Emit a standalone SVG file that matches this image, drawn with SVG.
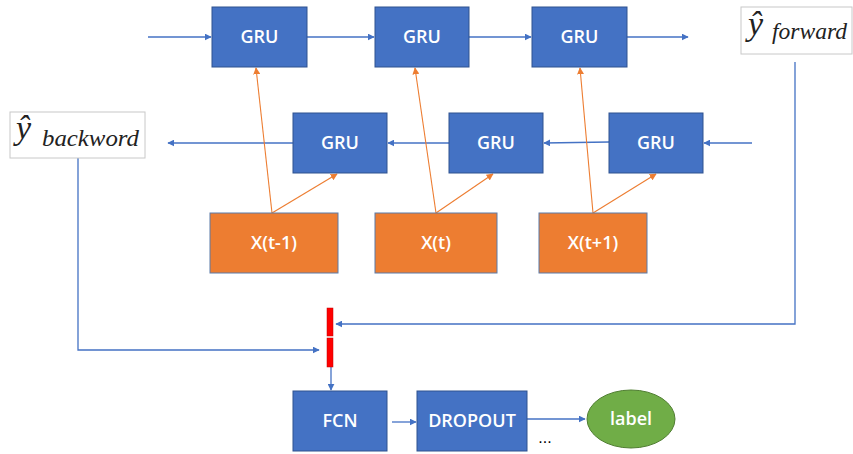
<svg xmlns="http://www.w3.org/2000/svg" width="853" height="454" viewBox="0 0 853 454">
<style>
.blue{fill:#4472C4;stroke:#2F528F;stroke-width:1}
.org{fill:#ED7D31;stroke:#5B7BA8;stroke-width:1}
.grn{fill:#70AD47;stroke:#507E32;stroke-width:1}
.lbl{fill:#fff;font-family:"Open Sans","Liberation Sans",sans-serif;font-size:18px;font-weight:600;text-anchor:middle}
.cb{stroke:#4472C4;stroke-width:1.3;fill:none}
.co{stroke:#ED7D31;stroke-width:1.1;fill:none}
.math{font-family:"Liberation Serif","DejaVu Serif",serif;font-style:italic;fill:#222}
.box{fill:#fff;stroke:#C8C8C8;stroke-width:1}
</style>
<defs>
<marker id="ab" viewBox="0 0 10 10" refX="9" refY="5" markerWidth="7" markerHeight="7" markerUnits="userSpaceOnUse" orient="auto"><path d="M0,0 L10,5 L0,10 z" fill="#4472C4"/></marker>
<marker id="ao" viewBox="0 0 10 10" refX="9" refY="5" markerWidth="7" markerHeight="7" markerUnits="userSpaceOnUse" orient="auto"><path d="M0,0 L10,5 L0,10 z" fill="#ED7D31"/></marker>
</defs>
<g id="connectors">
<line class="cb" x1="148" y1="37" x2="211" y2="37" marker-end="url(#ab)"/>
<line class="cb" x1="307" y1="37" x2="374" y2="37" marker-end="url(#ab)"/>
<line class="cb" x1="469" y1="37" x2="531" y2="37" marker-end="url(#ab)"/>
<line class="cb" x1="627" y1="37" x2="688" y2="37" marker-end="url(#ab)"/>
<line class="cb" x1="752" y1="143" x2="704" y2="143" marker-end="url(#ab)"/>
<line class="cb" x1="609" y1="142" x2="544" y2="143" marker-end="url(#ab)"/>
<line class="cb" x1="449" y1="143" x2="388" y2="143" marker-end="url(#ab)"/>
<line class="cb" x1="293" y1="143" x2="168" y2="143" marker-end="url(#ab)"/>
<line class="co" x1="272" y1="213" x2="256" y2="68" marker-end="url(#ao)"/>
<line class="co" x1="272" y1="213" x2="337" y2="174" marker-end="url(#ao)"/>
<line class="co" x1="436" y1="213" x2="415" y2="68" marker-end="url(#ao)"/>
<line class="co" x1="436" y1="213" x2="493" y2="174" marker-end="url(#ao)"/>
<line class="co" x1="593" y1="213" x2="580" y2="68" marker-end="url(#ao)"/>
<line class="co" x1="593" y1="213" x2="656" y2="174" marker-end="url(#ao)"/>
<polyline class="cb" points="795,62 795,324 336,324" marker-end="url(#ab)"/>
<polyline class="cb" points="78,158 78,350 319,350" marker-end="url(#ab)"/>
<line class="cb" x1="331" y1="367" x2="331" y2="390" marker-end="url(#ab)"/>
<line class="cb" x1="392" y1="422" x2="416" y2="422" marker-end="url(#ab)"/>
<line class="cb" x1="527" y1="419" x2="585" y2="419" marker-end="url(#ab)"/>
</g>
<g id="gru-f1"><rect class="blue" x="212" y="7" width="95" height="60"/><text class="lbl" x="259.5" y="43">GRU</text></g>
<g id="gru-f2"><rect class="blue" x="375" y="7" width="94" height="60"/><text class="lbl" x="422" y="43">GRU</text></g>
<g id="gru-f3"><rect class="blue" x="532" y="7" width="95" height="60"/><text class="lbl" x="579.5" y="43">GRU</text></g>
<g id="gru-b1"><rect class="blue" x="293" y="113" width="94" height="60"/><text class="lbl" x="340" y="149">GRU</text></g>
<g id="gru-b2"><rect class="blue" x="449" y="113" width="94" height="60"/><text class="lbl" x="496" y="149">GRU</text></g>
<g id="gru-b3"><rect class="blue" x="609" y="113" width="94" height="60"/><text class="lbl" x="656" y="149">GRU</text></g>
<g id="x-tm1"><rect class="org" x="210" y="213" width="128" height="60"/><text class="lbl" x="274" y="249">X(t-1)</text></g>
<g id="x-t"><rect class="org" x="375" y="213" width="122" height="60"/><text class="lbl" x="436" y="249">X(t)</text></g>
<g id="x-tp1"><rect class="org" x="539" y="213" width="108" height="60"/><text class="lbl" x="593" y="249">X(t+1)</text></g>
<g id="y-forward"><rect class="box" x="741" y="7" width="111" height="47"/><text class="math" x="748" y="35" font-size="34">ŷ</text><text class="math" x="772" y="39" font-size="24" textLength="75" lengthAdjust="spacingAndGlyphs">forward</text></g>
<g id="y-backward"><rect class="box" x="10" y="112" width="135" height="46"/><text class="math" x="16" y="139" font-size="34">ŷ</text><text class="math" x="42" y="146" font-size="24" textLength="97" lengthAdjust="spacingAndGlyphs">backword</text></g>
<g id="concat"><rect x="327" y="308" width="6" height="28" fill="#FF0000" stroke="#C00000" stroke-width="0.5"/><rect x="327" y="338" width="6" height="29" fill="#FF0000" stroke="#C00000" stroke-width="0.5"/></g>
<g id="fcn"><rect class="blue" x="293" y="391" width="94" height="60"/><text class="lbl" x="340" y="427">FCN</text></g>
<g id="dropout"><rect class="blue" x="417" y="391" width="110" height="60"/><text class="lbl" x="472" y="427">DROPOUT</text></g>
<g id="label"><ellipse class="grn" cx="631" cy="419" rx="44" ry="29"/><text class="lbl" x="631" y="425">label</text></g>
<text x="545" y="443" font-family="Liberation Sans,sans-serif" font-size="16" text-anchor="middle" fill="#000">...</text>
</svg>
